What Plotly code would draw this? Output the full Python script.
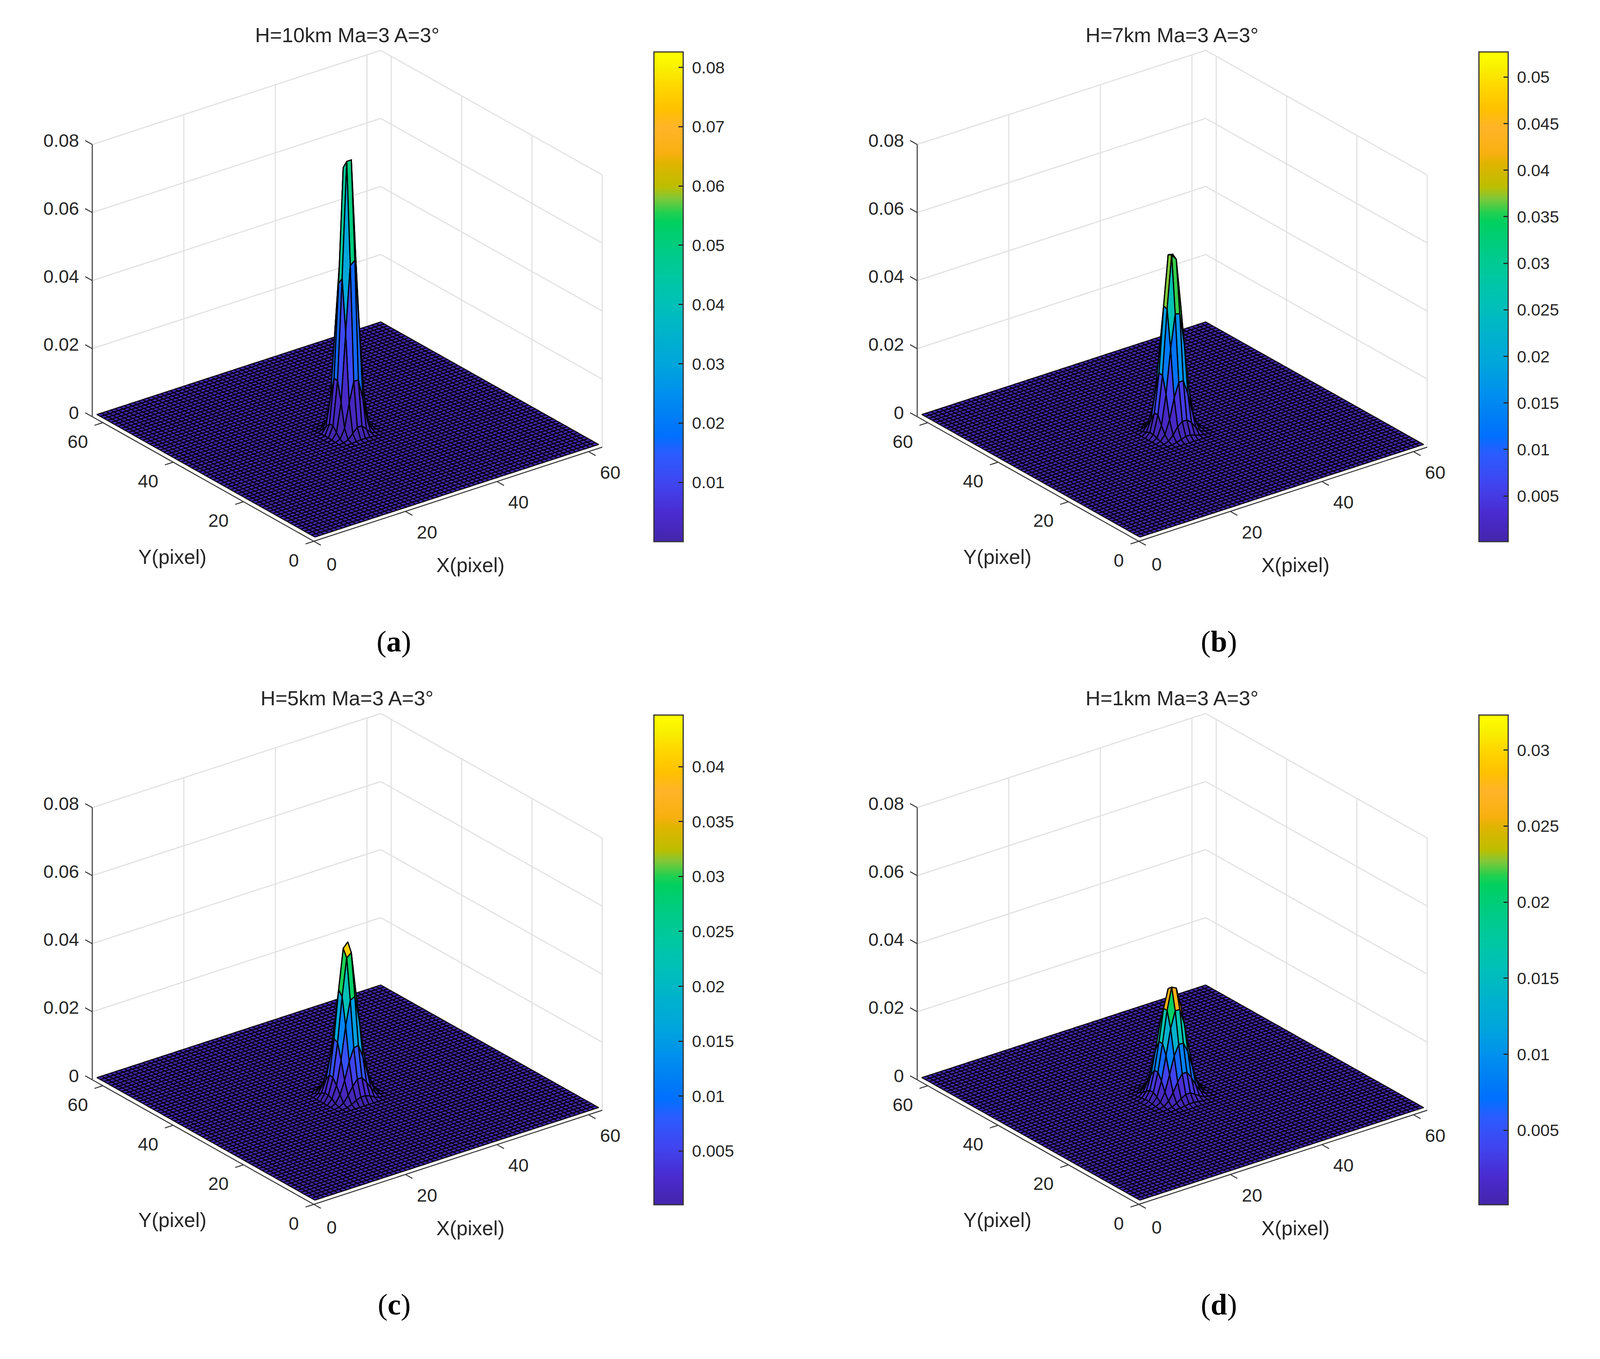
import numpy as np
import plotly.graph_objects as go

W, H = 4232, 3480

titles = ["H=10km Ma=3 A=3°", "H=7km Ma=3 A=3°", "H=5km Ma=3 A=3°", "H=1km Ma=3 A=3°"]
letters = ["a", "b", "c", "d"]

x_pixels = list(range(1, 64))
y_pixels = list(range(1, 64))
background = 0.0002
peak_x = 31
peak_y = 31

# values around the maximum of each surface
peak_a = [
    [.0002, .0002, .0003, .0004, .0005, .0005, .0004, .0003, .0002, .0002],
    [.0002, .0003, .0008, .0022, .0036, .0036, .0022, .0008, .0003, .0002],
    [.0003, .0008, .0036, .0105, .0165, .0165, .0105, .0036, .0008, .0003],
    [.0004, .0022, .0105, .0305, .0500, .0510, .0305, .0105, .0022, .0004],
    [.0005, .0036, .0165, .0460, .0826, .0815, .0500, .0165, .0036, .0005],
    [.0005, .0036, .0165, .0440, .0776, .0740, .0500, .0165, .0036, .0005],
    [.0004, .0022, .0105, .0305, .0500, .0500, .0305, .0105, .0022, .0004],
    [.0003, .0008, .0036, .0105, .0165, .0165, .0105, .0036, .0008, .0003],
    [.0002, .0003, .0008, .0022, .0036, .0036, .0022, .0008, .0003, .0002],
    [.0002, .0002, .0003, .0004, .0005, .0005, .0004, .0003, .0002, .0002],
]
peak_b = [
    [.0002, .0003, .0006, .0010, .0015, .0015, .0010, .0006, .0003, .0002],
    [.0003, .0008, .0022, .0042, .0053, .0053, .0042, .0022, .0008, .0003],
    [.0006, .0022, .0061, .0120, .0162, .0163, .0120, .0060, .0022, .0006],
    [.0010, .0042, .0130, .0258, .0357, .0354, .0258, .0125, .0042, .0010],
    [.0015, .0068, .0180, .0370, .0525, .0508, .0365, .0170, .0060, .0015],
    [.0015, .0068, .0181, .0374, .0520, .0517, .0365, .0170, .0060, .0015],
    [.0010, .0042, .0125, .0258, .0365, .0365, .0258, .0125, .0042, .0010],
    [.0006, .0022, .0060, .0125, .0170, .0170, .0125, .0060, .0022, .0006],
    [.0003, .0008, .0022, .0042, .0060, .0060, .0042, .0022, .0008, .0003],
    [.0002, .0003, .0006, .0010, .0015, .0015, .0010, .0006, .0003, .0002],
]
peak_c = [
    [.0002, .0004, .0009, .0017, .0022, .0022, .0017, .0009, .0004, .0002],
    [.0004, .0012, .0030, .0052, .0069, .0069, .0052, .0030, .0012, .0004],
    [.0009, .0030, .0068, .0118, .0155, .0158, .0120, .0068, .0030, .0009],
    [.0017, .0052, .0122, .0218, .0289, .0296, .0218, .0120, .0052, .0017],
    [.0022, .0069, .0168, .0298, .0408, .0419, .0298, .0165, .0069, .0022],
    [.0022, .0071, .0173, .0313, .0430, .0445, .0298, .0165, .0069, .0022],
    [.0017, .0052, .0120, .0218, .0298, .0298, .0218, .0120, .0052, .0017],
    [.0009, .0030, .0068, .0120, .0165, .0165, .0120, .0068, .0030, .0009],
    [.0004, .0012, .0030, .0052, .0069, .0069, .0052, .0030, .0012, .0004],
    [.0002, .0004, .0009, .0017, .0022, .0022, .0017, .0009, .0004, .0002],
]
peak_d = [
    [.0002, .0002, .0003, .0004, .0006, .0008, .0008, .0006, .0004, .0003, .0002, .0002],
    [.0002, .0003, .0006, .0013, .0022, .0030, .0030, .0022, .0013, .0006, .0003, .0002],
    [.0003, .0006, .0017, .0038, .0065, .0085, .0085, .0065, .0038, .0017, .0006, .0003],
    [.0004, .0013, .0038, .0085, .0135, .0165, .0165, .0135, .0085, .0038, .0013, .0004],
    [.0006, .0022, .0065, .0135, .0210, .0258, .0258, .0210, .0135, .0065, .0022, .0006],
    [.0008, .0030, .0085, .0165, .0258, .0322, .0315, .0258, .0165, .0085, .0030, .0008],
    [.0008, .0030, .0085, .0165, .0258, .0312, .0305, .0258, .0165, .0085, .0030, .0008],
    [.0006, .0022, .0065, .0135, .0210, .0258, .0258, .0210, .0135, .0065, .0022, .0006],
    [.0004, .0013, .0038, .0085, .0135, .0165, .0165, .0135, .0085, .0038, .0013, .0004],
    [.0003, .0006, .0017, .0038, .0065, .0085, .0085, .0065, .0038, .0017, .0006, .0003],
    [.0002, .0003, .0006, .0013, .0022, .0030, .0030, .0022, .0013, .0006, .0003, .0002],
    [.0002, .0002, .0003, .0004, .0006, .0008, .0008, .0006, .0004, .0003, .0002, .0002],
]
peaks = [peak_a, peak_b, peak_c, peak_d]

cmins = [0.0, 0.0001, 0.0001, 0.0001]
cmaxs = [0.0826, 0.0527, 0.0447, 0.0323]
bar_ticks = [
    [0.01, 0.02, 0.03, 0.04, 0.05, 0.06, 0.07, 0.08],
    [0.005, 0.01, 0.015, 0.02, 0.025, 0.03, 0.035, 0.04, 0.045, 0.05],
    [0.005, 0.01, 0.015, 0.02, 0.025, 0.03, 0.035, 0.04],
    [0.005, 0.01, 0.015, 0.02, 0.025, 0.03],
]

scale_pos = [0.000, 0.058, 0.119, 0.180, 0.216, 0.240, 0.301, 0.361, 0.422, 0.483, 0.543, 0.604,
             0.652, 0.671, 0.701, 0.725, 0.773, 0.792, 0.846, 0.882, 0.931, 0.967, 1.000]
scale_rgb = [(67, 37, 171), (74, 43, 208), (64, 69, 240), (42, 92, 255), (0, 112, 255), (0, 120, 248),
             (0, 143, 239), (0, 165, 220), (0, 178, 204), (0, 192, 184), (0, 200, 160), (0, 204, 128),
             (0, 208, 96), (32, 208, 80), (128, 200, 56), (189, 190, 0), (224, 180, 0), (248, 176, 16),
             (255, 180, 40), (255, 192, 0), (255, 216, 0), (248, 240, 0), (255, 255, 0)]
colorscale = [[p, "rgb(%d,%d,%d)" % c] for p, c in zip(scale_pos, scale_rgb)]

x_ticks = [0, 20, 40, 60]
y_ticks = [0, 20, 40, 60]
z_ticks = [0, 0.02, 0.04, 0.06, 0.08]
z_labels = ["0", "0.02", "0.04", "0.06", "0.08"]
xy_lim = 63
z_lim = 0.08

# view of the box in page pixels, panel (a); the other panels are shifted copies
ORIGIN = (830.0, 1386.0)
X_VEC = (763.0, -241.0)
Y_VEC = (-586.0, -319.0)
Z_LEN = 697.0
offsets = [(0, 0), (2182, 0), (0, 1698), (2182, 1698)]

FONT = "Liberation Sans"
TXT = "#262626"
GRID = "#E2E2E2"
AXIS = "#333333"


def project(x, y, z, off):
    x, y, z = np.asarray(x, float), np.asarray(y, float), np.asarray(z, float)
    sx = off[0] + ORIGIN[0] + x / xy_lim * X_VEC[0] + y / xy_lim * Y_VEC[0]
    sy = off[1] + ORIGIN[1] + x / xy_lim * X_VEC[1] + y / xy_lim * Y_VEC[1] - z / z_lim * Z_LEN
    return sx, sy


def build_z(patch):
    z = np.full((len(y_pixels), len(x_pixels)), background)
    patch = np.array(patch)
    mid = patch.shape[0] // 2 - 1
    r0, c0 = peak_y - 1 - mid, peak_x - 1 - mid
    z[r0 : r0 + patch.shape[0], c0 : c0 + patch.shape[1]] = patch
    return z


def cell_color(v, cmin, cmax):
    f = np.clip((v - cmin) / (cmax - cmin), 0, 1)
    rgb = [int(round(np.interp(f, scale_pos, [c[i] for c in scale_rgb]))) for i in range(3)]
    return "rgb(%d,%d,%d)" % tuple(rgb)


def segments(fig, pts, off, color, width):
    xs, ys = [], []
    for a, b in pts:
        sx, sy = project([a[0], b[0]], [a[1], b[1]], [a[2], b[2]], off)
        xs += [sx[0], sx[1], None]
        ys += [sy[0], sy[1], None]
    fig.add_trace(go.Scatter(x=xs, y=ys, mode="lines", line=dict(color=color, width=width),
                             hoverinfo="skip", cliponaxis=False))


def quad_path(ix, iy, z, off):
    cx = [x_pixels[ix], x_pixels[ix + 1], x_pixels[ix + 1], x_pixels[ix], x_pixels[ix]]
    cy = [y_pixels[iy], y_pixels[iy], y_pixels[iy + 1], y_pixels[iy + 1], y_pixels[iy]]
    cz = [z[iy, ix], z[iy, ix + 1], z[iy + 1, ix + 1], z[iy + 1, ix], z[iy, ix]]
    return project(cx, cy, np.minimum(cz, z_lim), off)


fig = go.Figure()
annotations = []


def note(text, x, y, size, family=FONT, anchor="center", color=TXT):
    annotations.append(dict(text=text, x=x, y=y, xref="x", yref="y", showarrow=False,
                            font=dict(family=family, size=size, color=color),
                            xanchor=anchor, yanchor="middle"))


for n, patch in enumerate(peaks):
    off = offsets[n]
    z = build_z(patch)

    # back walls
    grid = []
    for v in x_ticks[1:]:
        grid.append(((v, xy_lim, 0), (v, xy_lim, z_lim)))
    for v in y_ticks:
        grid.append(((xy_lim, v, 0), (xy_lim, v, z_lim)))
    for v in z_ticks[1:]:
        grid.append(((0, xy_lim, v), (xy_lim, xy_lim, v)))
        grid.append(((xy_lim, xy_lim, v), (xy_lim, 0, v)))
    segments(fig, grid, off, GRID, 3)

    # axis lines and ticks
    lines = [((0, 0, 0), (xy_lim, 0, 0)), ((0, 0, 0), (0, xy_lim, 0)), ((0, xy_lim, 0), (0, xy_lim, z_lim))]
    for v in x_ticks:
        lines.append(((v, 0, 0), (v, -2, 0)))
    for v in y_ticks:
        lines.append(((0, v, 0), (-1.8, v, 0)))
    for v in z_ticks:
        lines.append(((0, xy_lim, v), (0, xy_lim + 2, v)))
    segments(fig, lines, off, AXIS, 2.5)

    # surface: flat cells in one path, raised cells one by one from back to front
    raised = []
    flat_x, flat_y = [], []
    for iy in range(len(y_pixels) - 1):
        for ix in range(len(x_pixels) - 1):
            if max(z[iy, ix], z[iy, ix + 1], z[iy + 1, ix], z[iy + 1, ix + 1]) > background:
                raised.append((ix, iy))
            else:
                sx, sy = quad_path(ix, iy, z, off)
                flat_x += list(sx) + [None]
                flat_y += list(sy) + [None]
    fig.add_trace(go.Scatter(x=flat_x, y=flat_y, mode="lines", fill="toself",
                             fillcolor=cell_color(background, cmins[n], cmaxs[n]),
                             line=dict(color="#000000", width=2.3), hoverinfo="skip", cliponaxis=False))
    raised.sort(key=lambda c: -(c[0] + c[1]))
    for ix, iy in raised:
        sx, sy = quad_path(ix, iy, z, off)
        fig.add_trace(go.Scatter(x=sx, y=sy, mode="lines", fill="toself",
                                 fillcolor=cell_color(z[iy, ix], cmins[n], cmaxs[n]),
                                 line=dict(color="#000000", width=3), hoverinfo="skip", cliponaxis=False))

    # colour bar
    tip_x, tip_y = project([peak_x], [peak_y], [0], off)
    fig.add_trace(go.Scatter(
        x=tip_x, y=tip_y, mode="markers", hoverinfo="skip",
        marker=dict(
            size=1, opacity=0, color=[cmaxs[n]], cmin=cmins[n], cmax=cmaxs[n],
            colorscale=colorscale, showscale=True,
            colorbar=dict(
                x=(1730 + off[0]) / W, xanchor="left",
                y=1 - (133 + off[1]) / H, yanchor="top",
                len=1254 / H, lenmode="fraction",
                thickness=77 / W, thicknessmode="fraction",
                xpad=0, ypad=0,
                tickmode="array", tickvals=bar_ticks[n],
                ticktext=[f"\u00a0{v:g}" for v in bar_ticks[n]],
                ticks="inside", ticklen=13, tickwidth=3, tickcolor=TXT,
                outlinecolor=AXIS, outlinewidth=3,
                tickfont=dict(family=FONT, size=43, color=TXT),
            ),
        ),
    ))

    # text
    for v in x_ticks:
        sx, sy = project(v, 0, 0, off)
        nudge = (-10, 5) if v == 0 else (0, 0)
        note(str(v), float(sx) + 57 + nudge[0], float(sy) + 53 + nudge[1], 47)
    for v in y_ticks:
        sx, sy = project(0, v, 0, off)
        nudge = 13 if v == 0 else 0
        note(str(v), float(sx) - 66 + nudge, float(sy) + 48, 47)
    for v, t in zip(z_ticks, z_labels):
        sx, sy = project(0, xy_lim, v, off)
        note(t, float(sx) - 33, float(sy) - 11, 47, anchor="right")
    note(titles[n], 918 + off[0], 89 + off[1], 52.5)
    note("X(pixel)", 1245 + off[0], 1447 + off[1], 51.5)
    note("Y(pixel)", 456 + off[0], 1426 + off[1], 51.5)
    note(f"(<b>{letters[n]}</b>)", 1042 + off[0], 1642 + off[1], 76, "Liberation Serif", color="#000000")

fig.update_layout(
    height=H,
    autosize=True,
    margin=dict(l=0, r=0, t=0, b=0),
    paper_bgcolor="white",
    plot_bgcolor="white",
    showlegend=False,
    hovermode=False,
    annotations=annotations,
    xaxis=dict(range=[0, W], visible=False, domain=[0, 1]),
    yaxis=dict(range=[H, 0], visible=False, domain=[0, 1]),
)

fit_page = "document.body.style.margin='0';Plotly.Plots.resize(document.getElementById('{plot_id}'));"
fig.write_html("out.html", post_script=fit_page, config=dict(displayModeBar=False))
